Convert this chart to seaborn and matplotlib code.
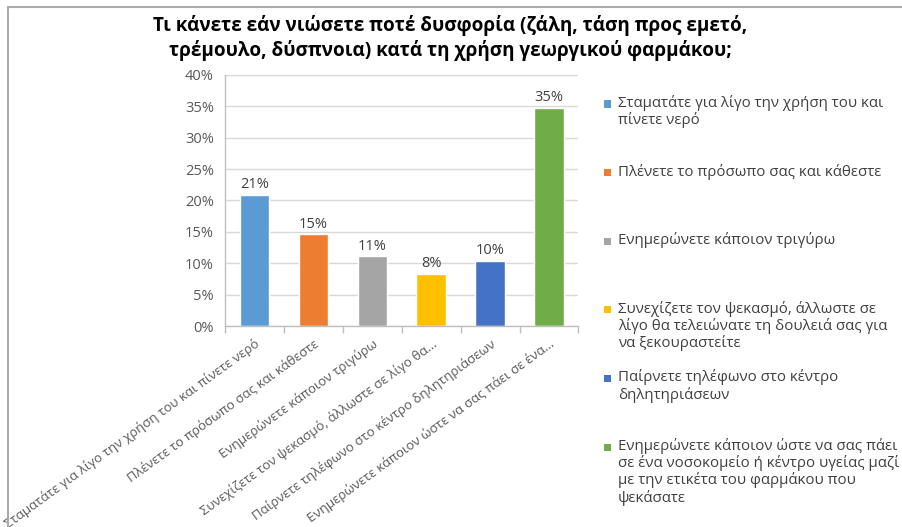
import matplotlib
matplotlib.use("Agg")
import matplotlib.pyplot as plt
import seaborn as sns
import pandas as pd
from matplotlib.patches import Rectangle
from matplotlib.lines import Line2D

# Survey answers (full wording used for the legend)
answers = [
    "Σταματάτε για λίγο την χρήση του και\nπίνετε νερό",
    "Πλένετε το πρόσωπο σας και κάθεστε",
    "Ενημερώνετε κάποιον τριγύρω",
    "Συνεχίζετε τον ψεκασμό, άλλωστε σε\nλίγο θα τελειώνατε τη δουλειά σας για\nνα ξεκουραστείτε",
    "Παίρνετε τηλέφωνο στο κέντρο\nδηλητηριάσεων",
    "Ενημερώνετε κάποιον ώστε να σας πάει\nσε ένα νοσοκομείο ή κέντρο υγείας μαζί\nμε την ετικέτα του φαρμάκου που\nψεκάσατε",
]
# Shortened wording shown under the bars
tick_labels = [
    "Σταματάτε για λίγο την χρήση του και πίνετε νερό",
    "Πλένετε το πρόσωπο σας και κάθεστε",
    "Ενημερώνετε κάποιον τριγύρω",
    "Συνεχίζετε τον ψεκασμό, άλλωστε σε λίγο θα...",
    "Παίρνετε τηλέφωνο στο κέντρο δηλητηριάσεων",
    "Ενημερώνετε κάποιον ώστε να σας πάει σε ένα...",
]
shares = [20.9, 14.6, 11.1, 8.3, 10.4, 34.7]
colors = ["#5B9BD5", "#ED7D31", "#A5A5A5", "#FFC000", "#4472C4", "#70AD47"]
y_ticks = [0, 5, 10, 15, 20, 25, 30, 35, 40]

title = ("Τι κάνετε εάν νιώσετε ποτέ δυσφορία (ζάλη, τάση προς εμετό,\n"
         "τρέμουλο, δύσπνοια) κατά τη χρήση γεωργικού φαρμάκου;")

sns.set_theme(style="white")
plt.rcParams["font.family"] = ["Open Sans", "DejaVu Sans"]

W, H = 902, 527
fig = plt.figure(figsize=(W / 100, H / 100), dpi=100)
fig.patch.set_facecolor("white")

ax = fig.add_axes([225 / W, 1 - 326 / H, 353.4 / W, 251 / H])

df = pd.DataFrame({"answer": answers, "share": shares})
sns.barplot(data=df, x="answer", y="share", hue="answer", palette=colors,
            width=0.5, saturation=1, legend=False, ax=ax)

ax.set_xlim(-0.5, len(answers) - 0.5)
ax.set_ylim(0, 40)
ax.set_xlabel("")
ax.set_ylabel("")

# value labels on top of bars
for cont in ax.containers:
    ax.bar_label(cont, labels=[f"{round(v)}%" for v in cont.datavalues],
                 padding=2, fontsize=10.5, color="#404040")

# y axis
ax.set_yticks(y_ticks)
ax.set_yticklabels([f"{v}%" for v in y_ticks], fontsize=10.5, color="#595959")
ax.yaxis.grid(True, color="#D9D9D9", lw=1)
ax.set_axisbelow(True)
ax.tick_params(axis="y", length=4, width=1, color="#BFBFBF", pad=4)

# x axis: labels at bar centres, tick marks between categories
ax.set_xticks(range(len(answers)))
ax.set_xticklabels(tick_labels, rotation=36, ha="right", va="top",
                   rotation_mode="anchor", fontsize=9.5, color="#595959")
ax.set_xticks([i - 0.5 for i in range(len(answers) + 1)], minor=True)
ax.tick_params(axis="x", which="major", length=0, pad=8)
ax.tick_params(axis="x", which="minor", length=5, width=1, color="#BFBFBF",
               bottom=True)

for side in ["top", "right"]:
    ax.spines[side].set_visible(False)
for side in ["left", "bottom"]:
    ax.spines[side].set_color("#BFBFBF")
    ax.spines[side].set_linewidth(1)

# title
fig.text(450 / W, 1 - 38 / H, title, ha="center", va="center",
         fontsize=13.6, fontweight="bold", color="#000000", linespacing=1.3)

# legend entries, evenly spaced down the right side
for i, (lab, col) in enumerate(zip(answers, colors)):
    y = 104 + i * 68.6
    fig.add_artist(Rectangle((604 / W, 1 - (y + 3.5) / H), 7 / W, 7 / H,
                             transform=fig.transFigure, facecolor=col,
                             edgecolor="none"))
    fig.text(618 / W, 1 - (y - 9) / H, lab, ha="left", va="top",
             fontsize=10.8, color="#404040", linespacing=1.1)

# chart frame
fig.add_artist(Line2D([8 / W, 1], [1 - 7 / H, 1 - 7 / H], color="#ABABAB",
                      lw=1.5, transform=fig.transFigure))
fig.add_artist(Line2D([8 / W, 8 / W], [1 - 7 / H, 0], color="#ABABAB",
                      lw=1.5, transform=fig.transFigure))

fig.savefig("out.png", dpi=100)
